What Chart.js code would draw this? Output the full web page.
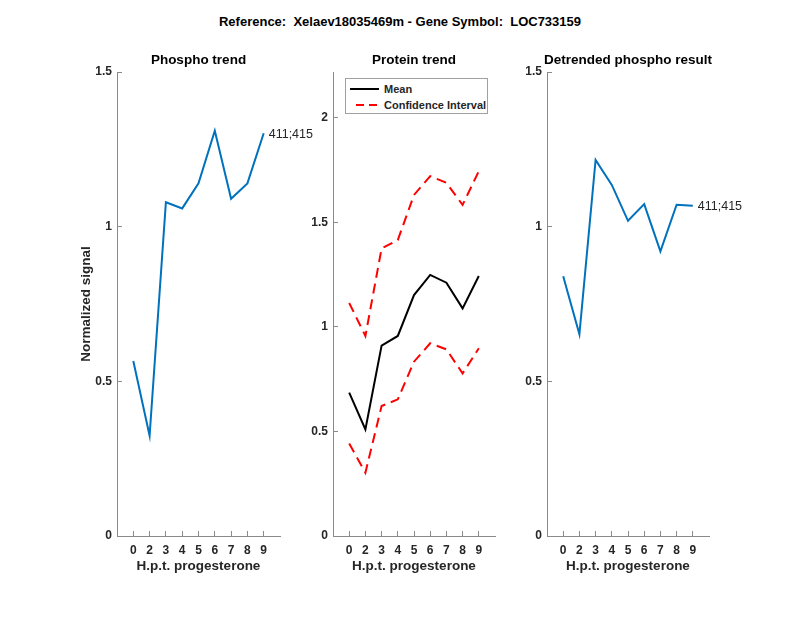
<!DOCTYPE html>
<html><head><meta charset="utf-8">
<script src="https://cdn.jsdelivr.net/npm/chart.js@4"></script>
<style>
html,body{margin:0;padding:0;background:#fff;width:800px;height:618px;overflow:hidden;font-family:"Liberation Sans",Arial,sans-serif;}
.box{position:absolute;top:0;height:618px;}
#title{position:absolute;left:0;width:800px;top:14px;line-height:16px;text-align:center;font-weight:bold;font-size:13px;color:#000;white-space:pre;}
#legend{position:absolute;left:345px;top:78px;width:141px;height:34px;border:1px solid #a0a0a0;background:#fff;font-weight:bold;font-size:11px;color:#262626;}
#legend .row{position:absolute;left:0;height:16px;line-height:16px;}
#legend svg{position:absolute;left:0;top:0;}
#legend span{position:absolute;left:38px;white-space:nowrap;}
</style></head><body>
<div id="title">Reference:  Xelaev18035469m - Gene Symbol:  LOC733159</div>
<div class="box" style="left:0;width:340px"><canvas id="c1"></canvas></div>
<div class="box" style="left:280px;width:260px"><canvas id="c2"></canvas></div>
<div class="box" style="left:490px;width:310px"><canvas id="c3"></canvas></div>
<div id="legend"></div>
<script>
// ---- data ----
const xTickLabels = ['0','2','3','4','5','6','7','8','9'];
const xPositions = [1,2,3,4,5,6,7,8,9];
const phospho   = [0.566, 0.324, 1.079, 1.059, 1.140, 1.310, 1.090, 1.140, 1.302];
const proteinMean  = [0.686, 0.510, 0.911, 0.957, 1.153, 1.249, 1.212, 1.089, 1.244];
const proteinUpper = [1.115, 0.957, 1.376, 1.416, 1.632, 1.722, 1.690, 1.584, 1.746];
const proteinLower = [0.443, 0.303, 0.622, 0.654, 0.834, 0.922, 0.893, 0.778, 0.898];
const detrended = [0.840, 0.652, 1.216, 1.135, 1.019, 1.073, 0.920, 1.071, 1.068];
const yTicksA = [0, 0.5, 1, 1.5];
const yTicksB = [0, 0.5, 1, 1.5, 2];
const siteLabel = '411;415';

const axisColor = '#8a8a8a';
const textColor = '#262626';
const FONT = '"Liberation Sans", Arial, sans-serif';
Chart.defaults.font.family = FONT;
Chart.defaults.color = textColor;

const pts = arr => arr.map((v,i)=>({x:xPositions[i], y:v}));

const siteLabelPlugin = {
  id:'siteLabel',
  afterDatasetsDraw(chart, args, o){
    if(!o || !o.text) return;
    const meta = chart.getDatasetMeta(0);
    const p = meta.data[meta.data.length-1];
    const ctx = chart.ctx;
    ctx.save();
    ctx.font = '12.5px ' + FONT;
    ctx.fillStyle = textColor;
    ctx.textAlign = 'left';
    ctx.textBaseline = 'middle';
    ctx.fillText(o.text, p.x + 5, p.y + 1);
    ctx.restore();
  }
};

function makeChart(id, datasets, cfg){
  return new Chart(document.getElementById(id), {
    type:'line',
    data:{datasets},
    plugins:[siteLabelPlugin],
    options:{
      responsive:true, maintainAspectRatio:false, animation:false,
      layout:{padding:{left:cfg.padL, right:cfg.padR, top:52, bottom:44}},
      elements:{point:{radius:0}, line:{tension:0}},
      plugins:{
        legend:{display:false}, tooltip:{enabled:false},
        title:{display:true, text:cfg.title, color:'#000', font:{size:13.5, weight:'bold'}, padding:{top:0, bottom:3.8}},
        siteLabel:{text:cfg.label}
      },
      scales:{
        x:{type:'linear', min:0, max:10,
          afterBuildTicks: s => { s.ticks = xPositions.map(v=>({value:v})); },
          afterFit: s => { s.height = 38; },
          grid:{drawOnChartArea:false, tickLength:-5, color:axisColor, lineWidth:1},
          border:{color:axisColor, width:1},
          ticks:{padding:12, autoSkip:false, maxRotation:0, color:textColor, font:{size:12, weight:'bold'},
            callback: v => xTickLabels[xPositions.indexOf(v)]},
          title:{display:true, text:'H.p.t. progesterone', color:textColor, font:{size:13.5, weight:'bold'}, padding:0}
        },
        y:{type:'linear', min:0, max:cfg.yMax,
          afterBuildTicks: s => { s.ticks = cfg.yTicks.map(v=>({value:v})); },
          afterFit: s => { s.width = 39; },
          grid:{drawOnChartArea:false, tickLength:-5, color:axisColor, lineWidth:1},
          border:{color:axisColor, width:1},
          ticks:{padding:10, color:textColor, font:{size:12, weight:'bold'}, callback: v => String(v)},
          title:{display:!!cfg.yTitle, text:cfg.yTitle||'', color:textColor, font:{size:13.5, weight:'bold'}, padding:0}
        },
        // empty right-hand spacer so the subplot title is centred over the plot area
        ySpacer:{type:'linear', position:'right', display:true, min:0, max:1,
          afterFit: s => { s.width = 39; },
          grid:{display:false}, border:{display:false}, ticks:{display:false}
        }
      }
    }
  });
}

makeChart('c1', [
  {label:'Phospho', data:pts(phospho), borderColor:'#0072BD', borderWidth:2, fill:false}
], {padL:78, padR:21, title:'Phospho trend', yMax:1.5, yTicks:yTicksA, yTitle:'Normalized signal', label:siteLabel});

const proteinSets = [
  {label:'Mean', data:pts(proteinMean), borderColor:'#000000', borderWidth:2, fill:false},
  {label:'Confidence Interval', data:pts(proteinUpper), borderColor:'#FF0000', borderWidth:2, borderDash:[10,6], fill:false},
  {label:'Confidence Interval (lower)', data:pts(proteinLower), borderColor:'#FF0000', borderWidth:2, borderDash:[10,6], fill:false}
];
makeChart('c2', proteinSets, {padL:14, padR:6, title:'Protein trend', yMax:2.22, yTicks:yTicksB, label:''});

makeChart('c3', [
  {label:'Detrended', data:pts(detrended), borderColor:'#0072BD', borderWidth:2, fill:false}
], {padL:18, padR:52, title:'Detrended phospho result', yMax:1.5, yTicks:yTicksA, label:siteLabel});

// legend (HTML, built from the first two protein datasets)
const lg = document.getElementById('legend');
proteinSets.slice(0,2).forEach((ds,i)=>{
  const row = document.createElement('div');
  row.className='row';
  row.style.top = (2 + i*16) + 'px';
  row.style.width = '141px';
  const dash = ds.borderDash ? 'stroke-dasharray="8,5"' : '';
  const x1 = ds.borderDash ? 10 : 4;
  row.innerHTML = '<svg width="36" height="16"><line x1="'+x1+'" y1="8" x2="33" y2="8" stroke="'+ds.borderColor+'" stroke-width="2" '+dash+'/></svg><span>'+ds.label+'</span>';
  lg.appendChild(row);
});
</script>
</body></html>
